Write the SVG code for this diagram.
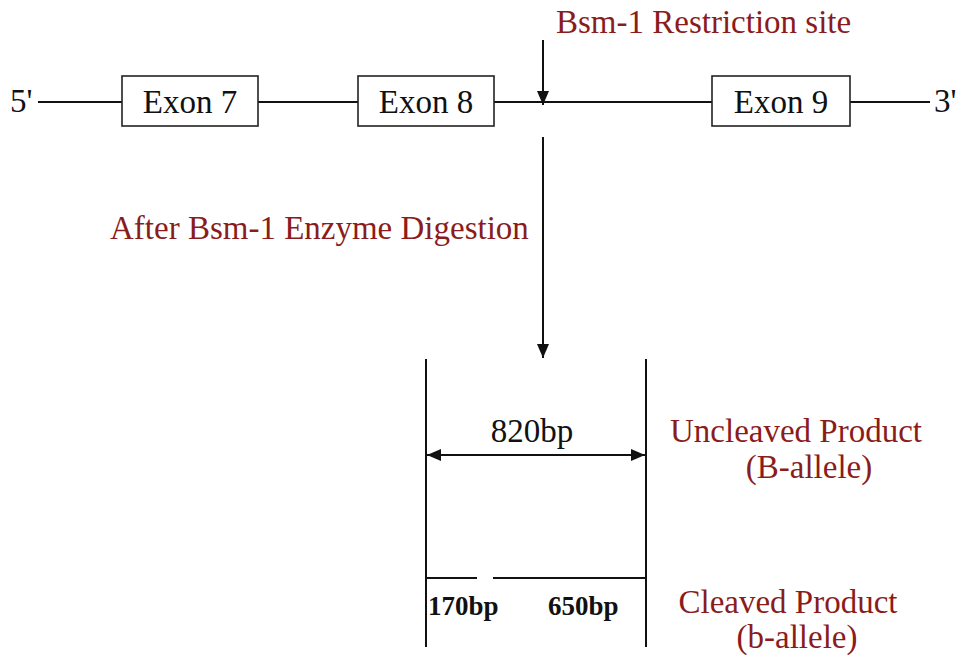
<svg xmlns="http://www.w3.org/2000/svg" width="964" height="657" viewBox="0 0 964 657">
<style>
.t{font-family:"Liberation Serif","Times New Roman",serif;font-size:33px;fill:#111}
.r{font-family:"Liberation Serif","Times New Roman",serif;font-size:33px;fill:#8b1c1c}
.b{font-family:"Liberation Serif","Times New Roman",serif;font-size:27px;font-weight:bold;fill:#111}
.ln{stroke:#111;stroke-width:2;fill:none}
.box{fill:#fff;stroke:#222;stroke-width:1.6}
</style>
<defs>
<marker id="ah" viewBox="0 0 14 12" refX="14" refY="6" markerWidth="14" markerHeight="12" markerUnits="userSpaceOnUse" orient="auto-start-reverse">
<path d="M0,0 L14,6 L0,12 Z" fill="#111"/>
</marker>
</defs>
<rect width="964" height="657" fill="#fff"/>
<g id="connectors">
<line class="ln" x1="38" y1="102" x2="122" y2="102"/>
<line class="ln" x1="258" y1="102" x2="358" y2="102"/>
<line class="ln" x1="494" y1="102" x2="712" y2="102"/>
<line class="ln" x1="850" y1="102" x2="930" y2="102"/>
<line class="ln" x1="543" y1="40" x2="543" y2="105" marker-end="url(#ah)"/>
<line class="ln" x1="543" y1="137" x2="543" y2="358" marker-end="url(#ah)"/>
<line class="ln" x1="426" y1="359" x2="426" y2="647"/>
<line class="ln" x1="646" y1="359" x2="646" y2="647"/>
<line class="ln" x1="427" y1="455" x2="645" y2="455" marker-start="url(#ah)" marker-end="url(#ah)"/>
<line class="ln" x1="426" y1="578" x2="477" y2="578"/>
<line class="ln" x1="493" y1="578" x2="646" y2="578"/>
</g>
<g id="five-prime"><text class="t" x="10" y="112">5'</text></g>
<g id="three-prime"><text class="t" x="934" y="112">3'</text></g>
<g id="exon7"><rect class="box" x="122" y="76" width="136" height="50"/><text class="t" x="190" y="113" text-anchor="middle">Exon 7</text></g>
<g id="exon8"><rect class="box" x="358" y="76" width="136" height="50"/><text class="t" x="426" y="113" text-anchor="middle">Exon 8</text></g>
<g id="exon9"><rect class="box" x="712" y="76" width="138" height="50"/><text class="t" x="781" y="113" text-anchor="middle">Exon 9</text></g>
<g id="restriction-label"><text class="r" x="556" y="33">Bsm-1 Restriction site</text></g>
<g id="digestion-label"><text class="r" x="110" y="239">After Bsm-1 Enzyme Digestion</text></g>
<g id="size-820"><text class="t" x="532" y="442" text-anchor="middle">820bp</text></g>
<g id="size-170"><text class="b" x="428" y="615">170bp</text></g>
<g id="size-650"><text class="b" x="548" y="615">650bp</text></g>
<g id="uncleaved-label"><text class="r" x="796" y="442" text-anchor="middle">Uncleaved Product</text><text class="r" x="809" y="478" text-anchor="middle">(B-allele)</text></g>
<g id="cleaved-label"><text class="r" x="788" y="613" text-anchor="middle">Cleaved Product</text><text class="r" x="797" y="648" text-anchor="middle">(b-allele)</text></g>
</svg>
